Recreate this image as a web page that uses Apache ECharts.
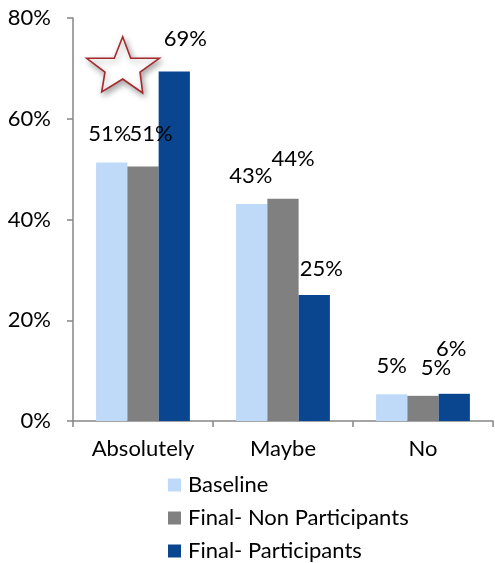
<!DOCTYPE html>
<html>
<head>
<meta charset="utf-8">
<script src="https://cdn.jsdelivr.net/npm/echarts@6/dist/echarts.min.js"></script>
<style>
html,body{margin:0;padding:0;background:#fff;}
#chart{width:495px;height:563px;}
</style>
</head>
<body>
<div id="chart"></div>
<script>
var categories = ['Absolutely', 'Maybe', 'No'];
var seriesNames = ['Baseline', 'Final- Non Participants', 'Final- Participants'];
var baseline = [51.3, 43.1, 5.3];
var finalNonParticipants = [50.5, 44.1, 5.0];
var finalParticipants = [69.4, 25.0, 5.4];
var valueLabels = [['51%', '43%', '5%'], ['51%', '44%', '5%'], ['69%', '25%', '6%']];
var yTicks = [0, 20, 40, 60, 80];

var colors = ['#BFD9F8', '#808080', '#0A4590'];
var labelNudge = [
  [[-2, -1], [-1, 0], [0, 0]],
  [[8, -5], [10, -12], [13, 0]],
  [[11, -4], [7, 2], [-3, -17]]
];
var FONT = 'Lato';
var FS = 22;
var allValues = [baseline, finalNonParticipants, finalParticipants];

var series = allValues.map(function (vals, si) {
  return {
    name: seriesNames[si],
    type: 'bar',
    barGap: '0%',
    barCategoryGap: '33%',
    itemStyle: { color: colors[si] },
    data: vals.map(function (v, ci) {
      return {
        value: v,
        label: { offset: labelNudge[si][ci] }
      };
    }),
    label: {
      show: true,
      position: 'top',
      distance: 17,
      fontFamily: FONT,
      fontSize: FS,
      color: '#000',
      formatter: function (p) { return valueLabels[si][p.dataIndex]; }
    }
  };
});

var chart = echarts.init(document.getElementById('chart'), null, { renderer: 'canvas' });
chart.setOption({
  animation: false,
  textStyle: { fontFamily: FONT },
  grid: { left: 73, right: 2, top: 18, bottom: 142, containLabel: false },
  legend: {
    orient: 'vertical',
    left: 168,
    top: 474,
    height: 120,
    padding: 0,
    itemWidth: 13,
    itemHeight: 13,
    itemGap: 11,
    icon: 'rect',
    textStyle: { fontFamily: FONT, fontSize: FS, color: '#000', lineHeight: 19, padding: [0, 0, 0, 2] },
    data: seriesNames
  },
  xAxis: {
    type: 'category',
    data: categories,
    axisLine: { lineStyle: { color: '#868686', width: 1.5 } },
    axisTick: { show: true, length: 6, lineStyle: { color: '#868686', width: 1.5 } },
    axisLabel: { margin: 17, fontFamily: FONT, fontSize: FS, color: '#000' }
  },
  yAxis: {
    type: 'value',
    min: yTicks[0],
    max: yTicks[yTicks.length - 1],
    interval: yTicks[1] - yTicks[0],
    splitLine: { show: false },
    axisLine: { show: true, lineStyle: { color: '#868686', width: 1.5 } },
    axisTick: { show: true, length: 6, lineStyle: { color: '#868686', width: 1.5 } },
    axisLabel: { margin: 22, fontFamily: FONT, fontSize: FS, color: '#000', formatter: '{value}%' }
  },
  graphic: [{
    type: 'polygon',
    shape: {
      points: [[122.7, 36.7], [130.7, 58.3], [159.3, 58.3], [140, 72], [142.7, 93],
               [122.7, 79], [101.7, 92], [105, 72], [86.7, 58.3], [114.3, 58.3]]
    },
    style: {
      fill: '#fff',
      stroke: '#A52A2E',
      lineWidth: 1.6,
      shadowBlur: 6,
      shadowColor: 'rgba(0,0,0,0.35)',
      shadowOffsetX: 2,
      shadowOffsetY: 3
    },
    z: 100
  }],
  series: series
});
</script>
</body>
</html>
